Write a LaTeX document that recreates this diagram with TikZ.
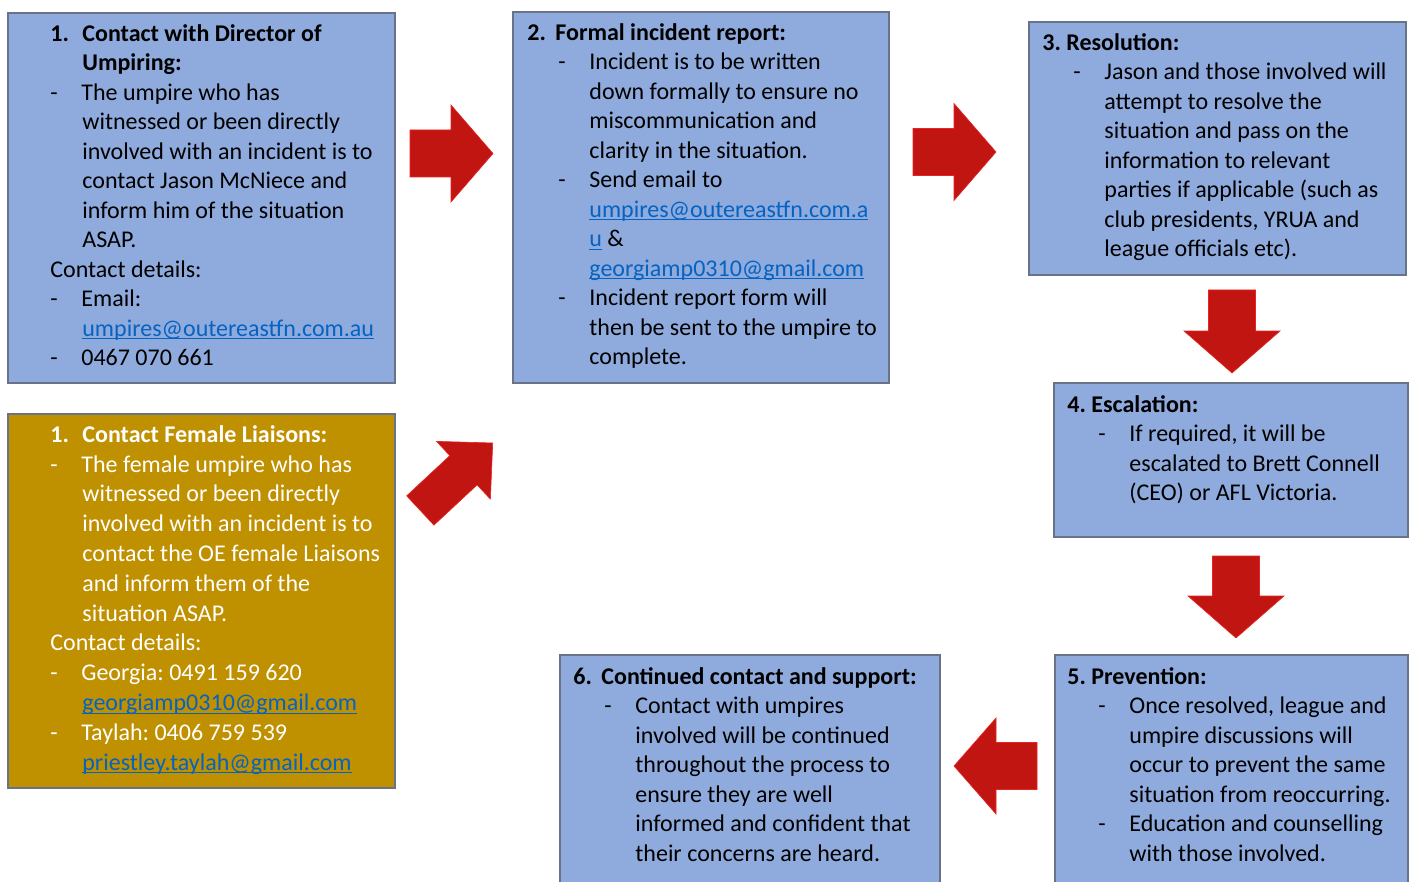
\documentclass[tikz,border=0pt]{standalone}
\usepackage{fontspec}
\setmainfont{Carlito}
\usetikzlibrary{calc,positioning}
\frenchspacing

\definecolor{boxblue}{RGB}{143,170,220}
\definecolor{boxgold}{RGB}{191,144,0}
\definecolor{boxedge}{RGB}{105,115,135}
\definecolor{arrowred}{RGB}{193,21,18}
\definecolor{arrowedge}{RGB}{235,35,35}
\definecolor{linkblue}{RGB}{5,99,193}

\newcommand{\lnk}[1]{{\color{linkblue}\setbox0\hbox{#1}\rlap{\rule[-1.6pt]{\wd0}{0.5pt}}\box0}}
\newcommand{\hd}[3]{\makebox[#1][l]{\bfseries #2}{\bfseries #3}}
\newcommand{\dsh}[1][0pt]{\hspace*{#1}\makebox[15.5pt][l]{-}}
\newcommand{\ind}[1][15.5pt]{\hspace*{#1}}
\newcommand{\blockarrow}[6]{\begin{scope}[shift={#1},rotate=#2]
  \fill[blk] (0,#5) -- (#3-#4,#5) -- (#3-#4,#6) -- (#3,0) -- (#3-#4,-#6) -- (#3-#4,-#5) -- (0,-#5) -- cycle;
  \end{scope}}

\begin{document}
\begin{tikzpicture}[x=0.5pt,y=-0.5pt,
  box/.style={draw=boxedge,line width=0.6pt},
  txt/.style={anchor=north west,inner sep=0pt,align=left,font=\fontsize{12}{14.75}\selectfont},
  blk/.style={fill=arrowred,draw=arrowedge,line width=0.3pt}]
\clip (0,0) rectangle (1413,882);
\fill[white] (0,0) rectangle (1413,882);

\draw[box,fill=boxblue] (8,13) rectangle (395,383);
\draw[box,fill=boxgold] (8,414) rectangle (395,788);
\draw[box,fill=boxblue] (513,12) rectangle (889,383);
\draw[box,fill=boxblue] (1029,22) rectangle (1406,275);
\draw[box,fill=boxblue] (1054,383) rectangle (1408,537);
\draw[box,fill=boxblue] (1055,655) rectangle (1408,895);
\draw[box,fill=boxblue] (560,655) rectangle (940,895);

\node[txt] (director) at (50,24) {\hd{16pt}{1.}{Contact with Director of}\\
  \ind[16pt]\textbf{Umpiring:}\\
  \dsh The umpire who has\\
  \ind[16pt]witnessed or been directly\\
  \ind[16pt]involved with an incident is to\\
  \ind[16pt]contact Jason McNiece and\\
  \ind[16pt]inform him of the situation\\
  \ind[16pt]ASAP.\\
  Contact details:\\
  \dsh Email:\\
  \ind[16pt]\lnk{umpires@outereastfn.com.au}\\
  \dsh 0467 070 661};

\node[txt,text=white,font=\fontsize{12}{14.9}\selectfont] (liaisons) at (50,425) {\hd{16pt}{1.}{Contact Female Liaisons:}\\
  \dsh The female umpire who has\\
  \ind[16pt]witnessed or been directly\\
  \ind[16pt]involved with an incident is to\\
  \ind[16pt]contact the OE female Liaisons\\
  \ind[16pt]and inform them of the\\
  \ind[16pt]situation ASAP.\\
  Contact details:\\
  \dsh Georgia: 0491 159 620\\
  \ind[16pt]\lnk{georgiamp0310@gmail.com}\\
  \dsh Taylah: 0406 759 539\\
  \ind[16pt]\lnk{priestley.taylah@gmail.com}};

\node[txt] (report) at (527,23) {\hd{14pt}{2.}{Formal incident report:}\\
  \dsh[15.5pt]Incident is to be written\\
  \ind[31pt]down formally to ensure no\\
  \ind[31pt]miscommunication and\\
  \ind[31pt]clarity in the situation.\\
  \dsh[15.5pt]Send email to\\
  \ind[31pt]\lnk{umpires@outereastfn.com.a}\\
  \ind[31pt]\lnk{u} \&\\
  \ind[31pt]\lnk{georgiamp0310@gmail.com}\\
  \dsh[15.5pt]Incident report form will\\
  \ind[31pt]then be sent to the umpire to\\
  \ind[31pt]complete.};

\node[txt] (resolution) at (1042,33) {\textbf{3. Resolution:}\\
  \dsh[15.5pt]Jason and those involved will\\
  \ind[31pt]attempt to resolve the\\
  \ind[31pt]situation and pass on the\\
  \ind[31pt]information to relevant\\
  \ind[31pt]parties if applicable (such as\\
  \ind[31pt]club presidents, YRUA and\\
  \ind[31pt]league officials etc).};

\node[txt] (escalation) at (1067,395) {\textbf{4. Escalation:}\\
  \dsh[15.5pt]If required, it will be\\
  \ind[31pt]escalated to Brett Connell\\
  \ind[31pt](CEO) or AFL Victoria.};

\node[txt] (prevention) at (1067,667) {\textbf{5. Prevention:}\\
  \dsh[15.5pt]Once resolved, league and\\
  \ind[31pt]umpire discussions will\\
  \ind[31pt]occur to prevent the same\\
  \ind[31pt]situation from reoccurring.\\
  \dsh[15.5pt]Education and counselling\\
  \ind[31pt]with those involved.};

\node[txt] (support) at (573,667) {\hd{14pt}{6.}{Continued contact and support:}\\
  \dsh[15.5pt]Contact with umpires\\
  \ind[31pt]involved will be continued\\
  \ind[31pt]throughout the process to\\
  \ind[31pt]ensure they are well\\
  \ind[31pt]informed and confident that\\
  \ind[31pt]their concerns are heard.};

\blockarrow{(410,153.5)}{0}{83}{42}{23.5}{48.5}
\blockarrow{(913,152)}{0}{83}{42}{23.5}{48.5}
\blockarrow{(420.3,510.5)}{43}{99}{40}{20}{39.5}
\blockarrow{(1232,290)}{-90}{83}{42}{23.5}{48}
\blockarrow{(1236,556)}{-90}{82}{42}{23.5}{48}
\blockarrow{(1037,766)}{180}{83}{42}{23.5}{48}
\end{tikzpicture}
\end{document}
